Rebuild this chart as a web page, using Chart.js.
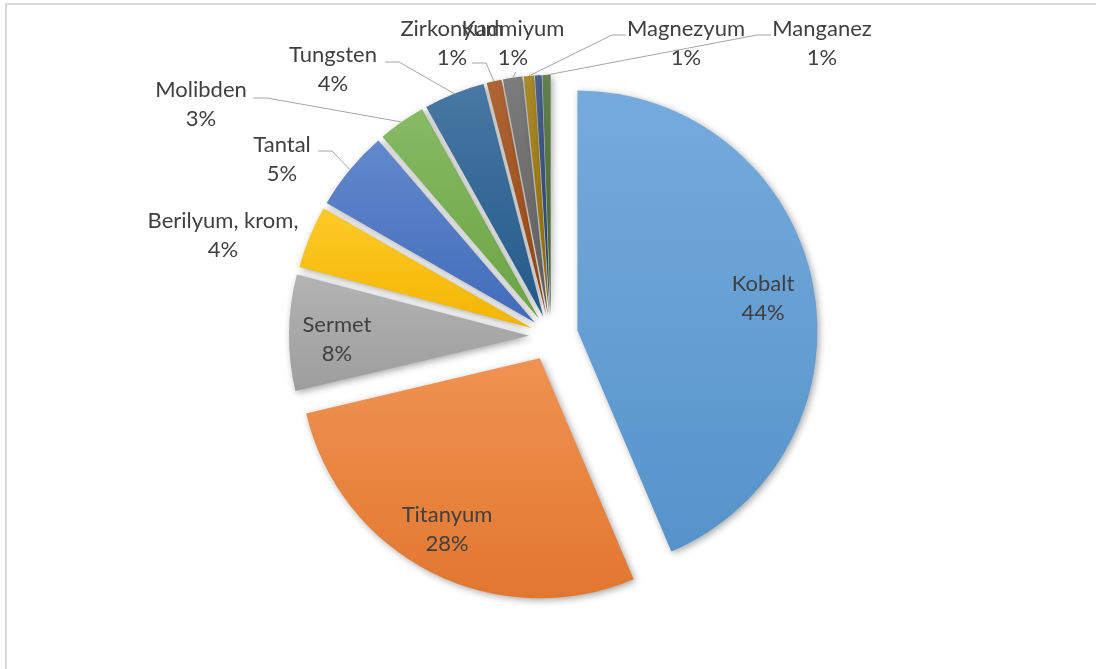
<!DOCTYPE html>
<html>
<head>
<meta charset="UTF-8">
<title>Pie</title>
<script src="https://cdn.jsdelivr.net/npm/chart.js@4.4.1/dist/chart.umd.min.js"></script>
<style>
  html, body { margin:0; padding:0; background:#fff; }
  #wrap { position:relative; width:1096px; height:669px; overflow:hidden; }
  #frame { position:absolute; left:5px; top:3px; width:1200px; height:800px;
           border-left:2px solid #d9d9d9; border-top:2px solid #d9d9d9; }
  canvas { position:absolute; left:0; top:0; }
</style>
</head>
<body>
<div id="wrap">
  <div id="frame"></div>
  <canvas id="myChart" width="1096" height="669"></canvas>
</div>

<script>
  // dilim verileri (yuzde)
  var metals = ['Kobalt', 'Titanyum', 'Sermet', 'Berilyum, krom,', 'Tantal', 'Molibden',
                'Tungsten', 'Zirkonyum', 'Kadmiyum', 'Magnezyum', '', 'Manganez'];
  var shares = [43.6, 27.7, 7.8, 4.2, 5.4, 3.2, 4.1, 1.0, 1.3, 0.7, 0.45, 0.55];
  // 11. dilimin etiketi grafikte yok

  var baseColors = ['#5B9BD5', '#ED7D31', '#A5A5A5', '#FFC000', '#4472C4', '#70AD47',
                    '#255E91', '#9E480E', '#636363', '#997300', '#264478', '#43682B'];
  var explode = [27, 25, 22, 21, 21, 21, 21, 21, 21, 21, 21, 21];

  // etiket yerleri: x = orta, y = ilk satirin taban cizgisi, from = kilavuz cizgi baslangici
  var labelLayout = [
    {x: 763, y: 291},
    {x: 447, y: 522},
    {x: 337, y: 332},
    {x: 223, y: 228},
    {x: 282, y: 152, from: [318, 151]},
    {x: 201, y: 97,  from: [253, 98]},
    {x: 333, y: 62,  from: [385, 62]},
    {x: 452, y: 36,  from: [472, 63]},
    {x: 513, y: 36,  from: [516, 72]},
    {x: 686, y: 36,  from: [626, 35]},
    null,
    {x: 822, y: 36,  from: [771, 35]}
  ];

  function mix(hex, target, t) {
    var a = parseInt(hex.slice(1), 16), b = parseInt(target.slice(1), 16);
    var r = Math.round(((a >> 16) & 255) * (1 - t) + ((b >> 16) & 255) * t);
    var g = Math.round(((a >> 8) & 255) * (1 - t) + ((b >> 8) & 255) * t);
    var bl = Math.round((a & 255) * (1 - t) + (b & 255) * t);
    return 'rgb(' + r + ',' + g + ',' + bl + ')';
  }

  // dilimleri ayrik, gradyanli ve golgeli ciz
  var explodedPie = {
    id: 'explodedPie',
    beforeDatasetsDraw: function(chart) {
      var ctx = chart.ctx;
      var meta = chart.getDatasetMeta(0);
      meta.data.forEach(function(arc, i) {
        var mid = (arc.startAngle + arc.endAngle) / 2;
        var dx = Math.cos(mid) * explode[i], dy = Math.sin(mid) * explode[i];
        var r = arc.outerRadius;
        var ys = [arc.y, arc.y + Math.sin(arc.startAngle) * r, arc.y + Math.sin(arc.endAngle) * r];
        [-Math.PI / 2, Math.PI / 2, 3 * Math.PI / 2].forEach(function(a) {
          if (a > arc.startAngle && a < arc.endAngle) ys.push(arc.y + Math.sin(a) * r);
        });
        var top = Math.min.apply(null, ys), bot = Math.max.apply(null, ys);
        var grad = ctx.createLinearGradient(0, top, 0, bot);
        grad.addColorStop(0, mix(baseColors[i], '#ffffff', 0.16));
        grad.addColorStop(1, mix(baseColors[i], '#000000', 0.05));
        arc.options.backgroundColor = grad;

        ctx.save();
        ctx.translate(dx, dy);
        ctx.shadowColor = 'rgba(0,0,0,0.35)';
        ctx.shadowBlur = 7;
        ctx.shadowOffsetX = 2;
        ctx.shadowOffsetY = 2;
        arc.draw(ctx);
        ctx.restore();
      });
      return false;
    },
    afterDraw: function(chart) {
      var ctx = chart.ctx;
      var meta = chart.getDatasetMeta(0);
      var total = shares.reduce(function(s, v) { return s + v; }, 0);
      ctx.save();
      ctx.font = '22px Lato, "Open Sans", sans-serif';
      ctx.fillStyle = '#404040';
      ctx.textAlign = 'center';
      ctx.textBaseline = 'alphabetic';
      meta.data.forEach(function(arc, i) {
        var lb = labelLayout[i];
        if (!lb) return;
        if (lb.from) {
          var mid = (arc.startAngle + arc.endAngle) / 2;
          var rr = arc.outerRadius + explode[i];
          var ex = arc.x + Math.cos(mid) * rr, ey = arc.y + Math.sin(mid) * rr;
          ctx.beginPath();
          ctx.strokeStyle = '#a6a6a6';
          ctx.lineWidth = 1;
          ctx.moveTo(lb.from[0], lb.from[1]);
          if (Math.abs(ex - lb.from[0]) > 20) {
            ctx.lineTo(lb.from[0] + (ex > lb.from[0] ? 14 : -14), lb.from[1]);
          }
          ctx.lineTo(ex, ey);
          ctx.stroke();
        }
        ctx.fillText(metals[i], lb.x, lb.y);
        ctx.fillText(Math.round(shares[i] / total * 100) + '%', lb.x, lb.y + 29);
      });
      ctx.restore();
    }
  };

  new Chart('myChart', {
    type: 'pie',
    data: {
      labels: metals,
      datasets: [{
        data: shares,
        backgroundColor: baseColors,
        borderWidth: 0,
        radius: 240
      }]
    },
    options: {
      responsive: false,
      animation: false,
      layout: {padding: {left: 6, top: 3}},
      plugins: {
        legend: {display: false},
        tooltip: {enabled: false}
      }
    },
    plugins: [explodedPie]
  });
</script>
</body>
</html>
